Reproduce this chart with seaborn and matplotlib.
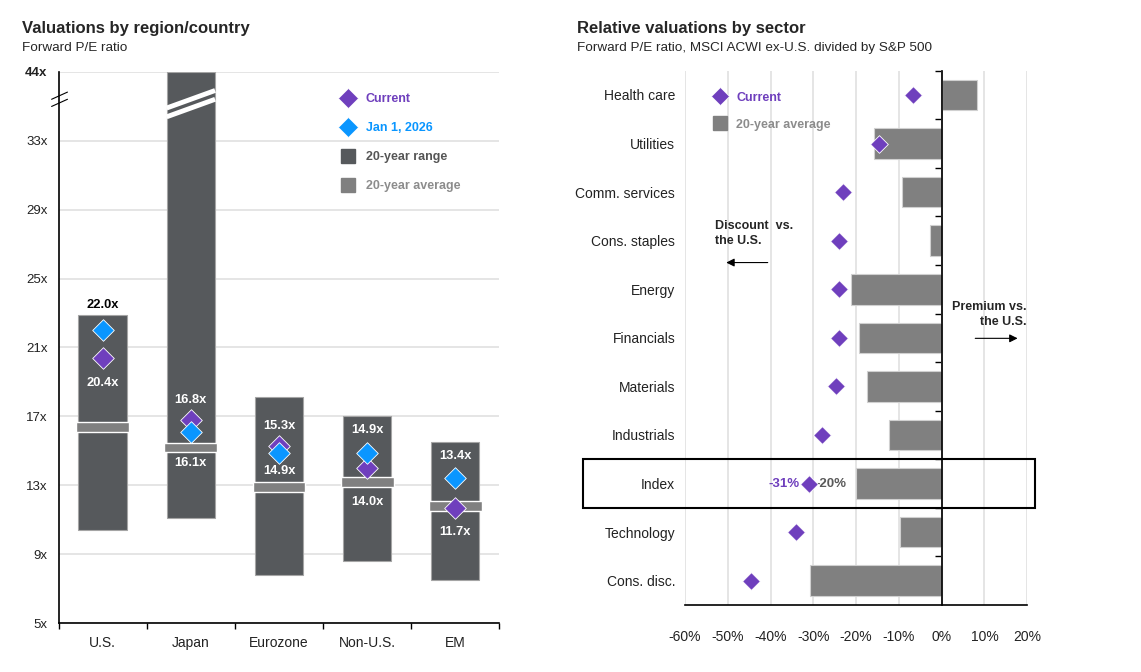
import numpy as np
import matplotlib.pyplot as plt
import seaborn as sns
from matplotlib.lines import Line2D
from matplotlib.patches import Rectangle

# left panel: forward P/E by region
regions = ['U.S.', 'Japan', 'Eurozone', 'Non-U.S.', 'EM']
range_low = [10.4, 11.1, 7.8, 8.6, 7.5]
range_high = [22.9, 44.0, 18.1, 17.0, 15.5]
avg_20y = [16.4, 15.2, 12.9, 13.2, 11.8]
current = [20.4, 16.8, 15.3, 14.0, 11.7]
jan_2026 = [22.0, 16.1, 14.9, 14.9, 13.4]
pe_ticks = [5, 9, 13, 17, 21, 25, 29, 33, 44]
pe_ticklabels = ['5x', '9x', '13x', '17x', '21x', '25x', '29x', '33x', '44x']

# right panel: relative valuations by sector (%)
sectors = ['Health care', 'Utilities', 'Comm. services', 'Cons. staples', 'Energy',
           'Financials', 'Materials', 'Industrials', 'Index', 'Technology', 'Cons. disc.']
sector_avg = [8.2, -15.7, -9.2, -2.7, -21.3, -19.3, -17.5, -12.2, -20.0, -9.7, -30.8]
sector_current = [-6.6, -14.7, -23.1, -24.0, -24.0, -24.0, -24.7, -28.0, -31.0, -34.0, -44.6]
pct_ticks = [-60, -50, -40, -30, -20, -10, 0, 10, 20]

PURPLE = '#6f3fbd'
BLUE = '#0a96ff'
DARK = '#56595c'
MID = '#808080'
GRID = '#e0e0e0'

sns.set_theme(style='white')
plt.rcParams['font.family'] = ['Liberation Sans', 'DejaVu Sans']

fig = plt.figure(figsize=(11.41, 6.72), dpi=100)
ax1 = fig.add_axes([0.0514, 0.0725, 0.3862, 0.8208])
ax2 = fig.add_axes([0.6003, 0.0997, 0.3000, 0.7951])

# broken axis: everything above 33x is squeezed so 44x sits one step above 33x
BRK = 33
def fwd(v):
    v = np.asarray(v, dtype=float)
    return np.where(v <= BRK, v, BRK + (v - BRK) * 4 / 11)

def inv(t):
    t = np.asarray(t, dtype=float)
    return np.where(t <= BRK, t, BRK + (t - BRK) * 11 / 4)

ax1.set_yscale('function', functions=(fwd, inv))

pos = np.arange(len(regions))
ax1.bar(pos, np.subtract(range_high, range_low), bottom=range_low, width=0.55,
        color=DARK, edgecolor='#a5a5a5', linewidth=0.8, zorder=2)
ax1.bar(pos, 0.55, bottom=np.subtract(avg_20y, 0.275), width=0.6,
        color=MID, edgecolor='white', linewidth=1, zorder=3)
sns.stripplot(x=regions, y=current, jitter=False, marker='D', size=11, color=PURPLE,
              edgecolor='white', linewidth=0.6, ax=ax1, zorder=4)
sns.stripplot(x=regions, y=jan_2026, jitter=False, marker='D', size=11, color=BLUE,
              edgecolor='white', linewidth=0.6, ax=ax1, zorder=4)

# value labels
up_off = [18, 14.5, 14, 16, 16]
lo_off = [-18, -22, -13, -24.5, -17.5]
for i in pos:
    hi = max(current[i], jan_2026[i])
    lo = min(current[i], jan_2026[i])
    col = 'black' if hi + 1.2 > range_high[i] else 'white'
    ax1.annotate(f'{hi:.1f}x', (i, hi), xytext=(0, up_off[i]), textcoords='offset points',
                 ha='center', va='center', color=col, fontsize=9.3, weight='bold', zorder=6)
    ax1.annotate(f'{lo:.1f}x', (i, lo), xytext=(0, lo_off[i]), textcoords='offset points',
                 ha='center', va='center', color='white', fontsize=9.3, weight='bold', zorder=6)

# break stripes on the Japan bar
for yl, yr in [(38.2, 41.0), (36.8, 39.6)]:
    ax1.plot([1 - 0.275, 1 + 0.275], [yl, yr], color='white', lw=3.5,
             solid_capstyle='butt', zorder=3)
# break marks on the y axis
for y0 in [0.950, 0.937]:
    ax1.plot([-0.016, 0.02], [y0, y0 + 0.013], color='black', lw=0.8,
             transform=ax1.transAxes, clip_on=False)

ax1.set_xlim(-0.5, len(regions) - 0.5)
ax1.set_ylim(5, 44)
ax1.set_yticks(pe_ticks, pe_ticklabels)
ax1.get_yticklabels()[-1].set_fontweight('bold')
ax1.yaxis.grid(True, color=GRID, lw=1.2)
ax1.xaxis.grid(False)
ax1.set_axisbelow(True)
ax1.set_xticks(pos, regions)
ax1.set_xticks(np.arange(-0.5, len(regions)), minor=True)
ax1.tick_params(axis='x', which='major', length=0, pad=9, labelsize=10, colors='#222222')
ax1.tick_params(axis='x', which='minor', bottom=True, length=4, width=1, color='black')
ax1.tick_params(axis='y', length=0, pad=8, labelsize=9.5, colors='#222222')
for s in ['top', 'right']:
    ax1.spines[s].set_visible(False)
for s in ['left', 'bottom']:
    ax1.spines[s].set_color('black')
    ax1.spines[s].set_linewidth(1.2)

h1 = [Line2D([], [], ls='', marker='D', ms=10, mfc=PURPLE, mec='white', mew=0.5),
      Line2D([], [], ls='', marker='D', ms=10, mfc=BLUE, mec='white', mew=0.5),
      Line2D([], [], ls='', marker='s', ms=10, mfc=DARK, mec=DARK),
      Line2D([], [], ls='', marker='s', ms=10, mfc=MID, mec=MID)]
ax1.legend(h1, ['Current', 'Jan 1, 2026', '20-year range', '20-year average'],
           loc='upper left', bbox_to_anchor=(0.617, 0.981), frameon=False,
           labelcolor=[PURPLE, BLUE, '#555555', '#8c8c8c'],
           prop={'weight': 'bold', 'size': 9}, handlelength=1.0,
           handletextpad=0.9, labelspacing=1.35, borderpad=0.4)

# right panel
sns.barplot(x=sector_avg, y=sectors, orient='h', color=MID, saturation=1, width=0.63,
            edgecolor='#d0d0d0', linewidth=0.8, errorbar=None, ax=ax2, zorder=2)
sns.stripplot(x=sector_current, y=sectors, orient='h', jitter=False, marker='D', size=9,
              color=PURPLE, edgecolor='white', linewidth=0.6, ax=ax2, zorder=4)

ax2.set_xlim(-60, 20)
ax2.set_ylim(len(sectors) - 0.5, -0.5)
ax2.set_xticks(pct_ticks, [f'{v}%' for v in pct_ticks])
ax2.xaxis.grid(True, color=GRID, lw=1.2)
ax2.yaxis.grid(False)
ax2.set_axisbelow(True)
ax2.tick_params(axis='x', length=0, pad=18, labelsize=10, colors='#222222')
ax2.tick_params(axis='y', length=0, pad=7, labelsize=10, colors='#222222')
ax2.set_xlabel('')
ax2.set_ylabel('')
for s in ['top', 'right', 'left']:
    ax2.spines[s].set_visible(False)
ax2.spines['bottom'].set_color('black')
ax2.spines['bottom'].set_linewidth(1.2)
ax2.axvline(0, color='black', lw=1.2, zorder=3)

# row boundary ticks on the zero line
sec = ax2.secondary_yaxis(0.75)
sec.set_alignment('left')
sec.set_yticks(np.arange(-0.5, len(sectors) - 1, 1))
sec.tick_params(axis='y', length=5, width=1, color='black', labelleft=False, labelright=False)
sec.spines['left'].set_color('black')
sec.spines['left'].set_linewidth(1.2)

idx = sectors.index('Index')
ax2.add_patch(Rectangle((-83.8, idx - 0.5), 83.8 + 21.8, 1, fill=False,
                        edgecolor='black', lw=1.5, clip_on=False, zorder=5))
ax2.annotate(f'{sector_current[idx]:.0f}%', (sector_current[idx], idx), xytext=(-7, 0),
             textcoords='offset points', ha='right', va='center', color=PURPLE,
             fontsize=9.5, weight='bold')
ax2.annotate(f'{sector_avg[idx]:.0f}%', (sector_avg[idx], idx), xytext=(-7, 0),
             textcoords='offset points', ha='right', va='center', color='#5a5a5a',
             fontsize=9.5, weight='bold')

ax2.text(-53, 2.85, 'Discount  vs.\nthe U.S.', ha='left', va='center', fontsize=9,
         weight='bold', linespacing=1.4)
ax2.annotate('', xy=(-51, 3.45), xytext=(-40, 3.45),
             arrowprops=dict(arrowstyle='-|>', color='black', lw=0.8))
ax2.text(19.9, 4.52, 'Premium vs.\nthe U.S.', ha='right', va='center', fontsize=9,
         weight='bold', linespacing=1.4)
ax2.annotate('', xy=(18.4, 5.01), xytext=(7.2, 5.01),
             arrowprops=dict(arrowstyle='-|>', color='black', lw=0.8))

h2 = [Line2D([], [], ls='', marker='D', ms=9, mfc=PURPLE, mec='white', mew=0.5),
      Line2D([], [], ls='', marker='s', ms=10, mfc=MID, mec=MID)]
ax2.legend(h2, ['Current', '20-year average'], loc='upper left',
           bbox_to_anchor=(0.052, 0.982), frameon=False,
           labelcolor=[PURPLE, '#8c8c8c'], prop={'weight': 'bold', 'size': 9},
           handlelength=1.0, handletextpad=0.8, labelspacing=1.2, borderpad=0.4)

fig.text(0.019, 0.957, 'Valuations by region/country', fontsize=12, weight='bold', va='center')
fig.text(0.019, 0.929, 'Forward P/E ratio', fontsize=9.7, va='center')
fig.text(0.506, 0.957, 'Relative valuations by sector', fontsize=12, weight='bold', va='center')
fig.text(0.506, 0.929, 'Forward P/E ratio, MSCI ACWI ex-U.S. divided by S&P 500',
         fontsize=9.7, va='center')

fig.savefig('out.png', dpi=100)
